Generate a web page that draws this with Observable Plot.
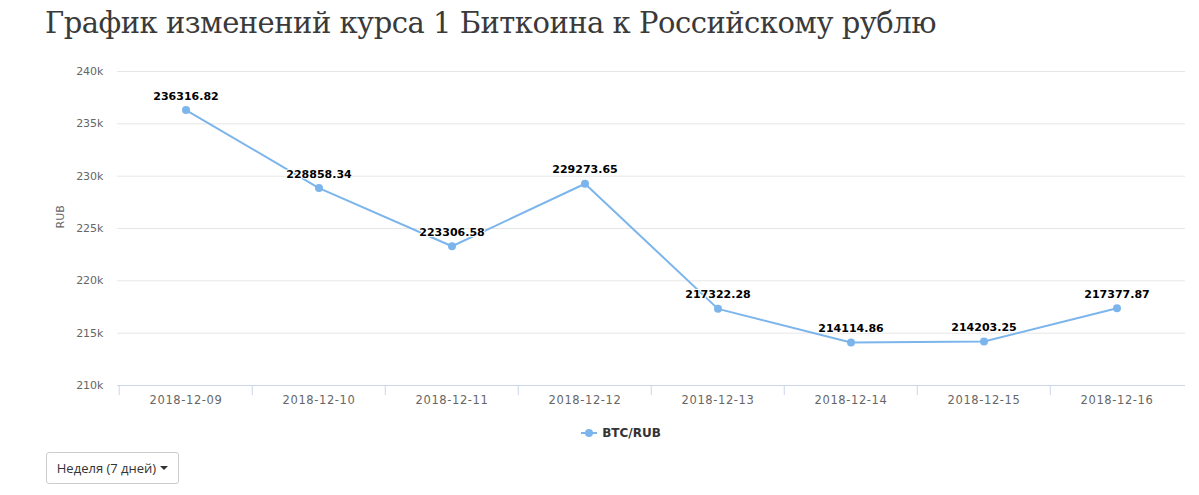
<!DOCTYPE html>
<html><head><meta charset="utf-8">
<script src="https://cdn.jsdelivr.net/npm/d3@7"></script>
<script src="https://cdn.jsdelivr.net/npm/@observablehq/plot@0.6"></script>
<style>
body{margin:0;background:#fff;width:1199px;height:495px;position:relative;overflow:hidden;font-family:"DejaVu Sans",sans-serif;}
#title{position:absolute;left:45px;top:6px;font-family:"DejaVu Serif",serif;font-weight:300;font-size:29px;color:#3a3a3a;white-space:nowrap;letter-spacing:-0.5px}
#chart{position:absolute;left:0;top:55px}
#legend{position:absolute;left:0;top:426px;width:1199px;display:flex;justify-content:center;align-items:center;font-size:12px;font-weight:bold;color:#333;padding-left:42px;box-sizing:border-box}
#btn{position:absolute;left:46px;top:452px;width:133px;height:32px;border:1px solid #ccc;border-radius:3px;font-family:"Open Sans",sans-serif;font-size:13px;color:#333;display:flex;align-items:center;justify-content:center;box-sizing:border-box}
.caret{display:inline-block;width:0;height:0;margin-left:4px;border-top:4px solid #333;border-left:4px solid transparent;border-right:4px solid transparent;vertical-align:middle}
.xl text{letter-spacing:0.6px}
</style></head>
<body>
<div id="title">График изменений курса 1 Биткоина к Российскому рублю</div>
<div id="chart"></div>
<div id="legend"><svg width="18" height="12" style="margin-right:4px"><line x1="1" x2="17" y1="6" y2="6" stroke="#7cb5ec" stroke-width="2"/><circle cx="9" cy="6" r="4" fill="#7cb5ec"/></svg>BTC/RUB</div>
<div id="btn">Неделя (7 дней)<span class="caret"></span></div>
<script>
const dates = ["2018-12-09","2018-12-10","2018-12-11","2018-12-12","2018-12-13","2018-12-14","2018-12-15","2018-12-16"];
const rates = [236316.82,228858.34,223306.58,229273.65,217322.28,214114.86,214203.25,217377.87];
const yTicks = [210000,215000,220000,225000,230000,235000,240000];
const seriesName = "BTC/RUB";
const axisTitle = "RUB";

const data = dates.map((d,i)=>({date:d, rate:rates[i]}));
const W = 1199, H = 370, ML = 117, MR = 14, MT = 16, MB = 40;
const band = (W - ML - MR) / dates.length;
const color = "#7cb5ec";

const chart = Plot.plot({
  width: W, height: H,
  marginLeft: ML, marginRight: MR, marginTop: MT, marginBottom: MB,
  style: {fontFamily: "DejaVu Sans, sans-serif", fontSize: "11px", color: "#666", background: "#fff"},
  x: {type: "band", domain: dates, padding: 0, label: null},
  y: {domain: [210000, 240000], label: null},
  marks: [
    Plot.gridY(yTicks, {stroke: "#e6e6e6", strokeOpacity: 1}),
    Plot.axisY(yTicks, {tickSize: 0, tickPadding: 14, tickFormat: d => d/1000 + "k", fill: "#666", fontSize: 11, label: null}),
    Plot.ruleY([210000], {stroke: "#ccd6eb"}),
    Plot.axisX({tickSize: 10, text: null, dx: -band/2, stroke: "#ccd6eb", strokeOpacity: 1, label: null}),
    Plot.axisX({tickSize: 0, tickPadding: 10, fill: "#666", fontSize: 11.5, label: null, className: "xl"}),
    Plot.text([axisTitle], {frameAnchor: "left", dx: -57, rotate: -90, text: d => d, fill: "#666", fontSize: 11}),
    Plot.line(data, {x: "date", y: "rate", stroke: color, strokeWidth: 2}),
    Plot.dot(data, {x: "date", y: "rate", r: 4, fill: color, stroke: "none"}),
    Plot.text(data, {x: "date", y: "rate", text: d => d.rate.toFixed(2), dy: -14, fill: "#000", fontWeight: "bold", fontSize: 11, stroke: "#fff", strokeWidth: 2})
  ]
});
document.getElementById("chart").appendChild(chart);
</script>
</body></html>
